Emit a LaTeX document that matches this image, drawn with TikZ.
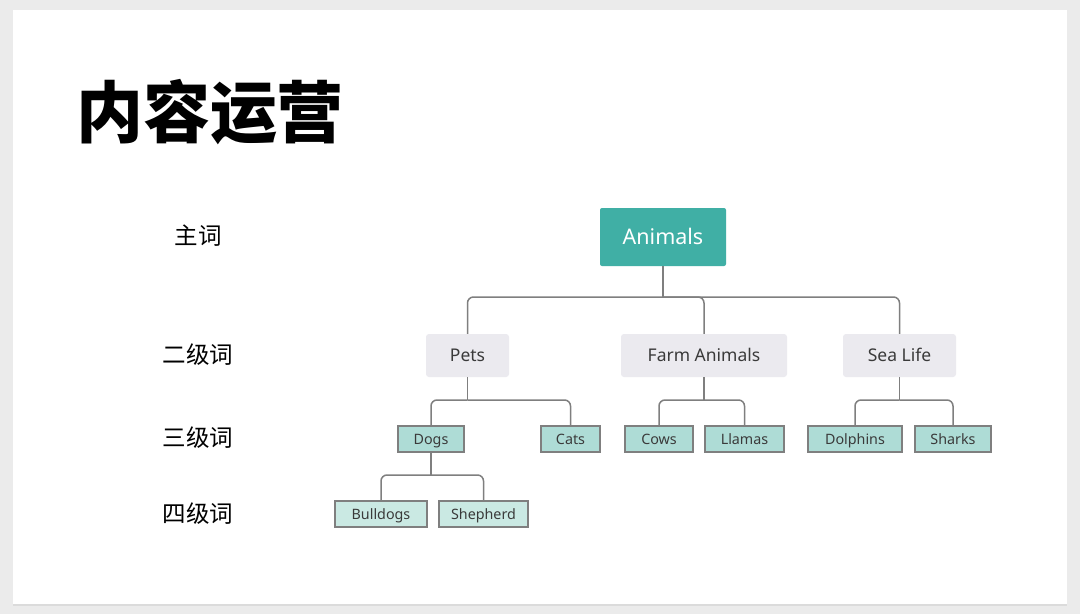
\documentclass[tikz,border=0pt]{standalone}
\usepackage{fontspec}
\setmainfont{Noto Sans}
\newfontfamily\cjk{Noto Sans CJK SC}
\usetikzlibrary{positioning}
\definecolor{rootteal}{HTML}{40AFA5}
\definecolor{topicgray}{HTML}{EBEAEF}
\definecolor{leafteal}{HTML}{AEDCD6}
\definecolor{subleaf}{HTML}{CAE9E3}
\definecolor{linegray}{HTML}{7F7F7F}
\definecolor{textgray}{HTML}{3A3A3A}
\definecolor{pagegray}{HTML}{EBEBEB}
\tikzset{
x=1pt, y=-1pt, % pixel-like coordinates, y grows downward
root/.style={fill=rootteal, text=white, rounded corners=2pt, inner sep=0pt, minimum width=126pt, minimum height=58pt, text height=15.4pt, text depth=0pt, font=\fontsize{21.5}{21.5}\selectfont},
topic/.style={fill=topicgray, text=textgray, rounded corners=3pt, inner sep=0pt, minimum height=43pt, text height=12.5pt, text depth=0pt, font=\fontsize{17.5}{17.5}\selectfont},
leaf/.style={draw=linegray, line width=1.3pt, fill=leafteal, text=textgray, inner sep=0pt, minimum height=26pt, text height=10.2pt, text depth=0pt, font=\fontsize{14.3}{14.3}\selectfont},
subleafbox/.style={leaf, fill=subleaf},
link/.style={draw=linegray, line width=1.5pt, rounded corners=6pt},
level/.style={font=\cjk\fontsize{23.5}{23.5}\selectfont, text=black},
}
\begin{document}
\begin{tikzpicture}
    % page and slide
    \useasboundingbox[fill=pagegray] (0,0) rectangle (1080,614);
    \fill[black!14] (13,11) rectangle (1067,606);
    \fill[white] (13,10) rectangle (1067,604);
    % title and level labels
    \node[font=\cjk\bfseries\fontsize{67}{67}\selectfont] (title) at (210,112) {内容运营};
    \node[level] (l1) at (198,236) {主词};
    \node[level] (l2) at (198,355) {二级词};
    \node[level] (l3) at (198,438) {三级词};
    \node[level] (l4) at (198,514) {四级词};
    % tree nodes
    \node[root] (animals) at (663,237) {Animals};
    \node[topic, minimum width=83pt] (pets) at (467.5,355.5) {Pets};
    \node[topic, minimum width=166pt] (farm) at (704,355.5) {Farm Animals};
    \node[topic, minimum width=113pt] (sea) at (899.5,355.5) {Sea Life};
    \node[leaf, minimum width=66pt] (dogs) at (431,439) {Dogs};
    \node[leaf, minimum width=59pt] (cats) at (570.5,439) {Cats};
    \node[leaf, minimum width=68pt] (cows) at (659,439) {Cows};
    \node[leaf, minimum width=79pt] (llamas) at (744.5,439) {Llamas};
    \node[leaf, minimum width=94pt] (dolphins) at (855,439) {Dolphins};
    \node[leaf, minimum width=76pt] (sharks) at (953,439) {Sharks};
    \node[subleafbox, minimum width=92pt] (bulldogs) at (381,514) {Bulldogs};
    \node[subleafbox, minimum width=89pt] (shepherd) at (483.5,514) {Shepherd};
    % junctions
    \coordinate (j0) at (663,297);
    \coordinate (j1) at (467.5,400);
    \coordinate (j2) at (704,400);
    \coordinate (j3) at (899.5,400);
    \coordinate (j4) at (431,475);
    % connectors
    \draw[link] (animals) -- (j0);
    \draw[link] (j0) -| (pets);
    \draw[link] (j0) -| (farm);
    \draw[link] (j0) -| (sea);
    \draw[link] (pets) -- (j1);
    \draw[link] (j1) -| (dogs);
    \draw[link] (j1) -| (cats);
    \draw[link] (farm) -- (j2);
    \draw[link] (j2) -| (cows);
    \draw[link] (j2) -| (llamas);
    \draw[link] (sea) -- (j3);
    \draw[link] (j3) -| (dolphins);
    \draw[link] (j3) -| (sharks);
    \draw[link] (dogs) -- (j4);
    \draw[link] (j4) -| (bulldogs);
    \draw[link] (j4) -| (shepherd);
\end{tikzpicture}
\end{document}
